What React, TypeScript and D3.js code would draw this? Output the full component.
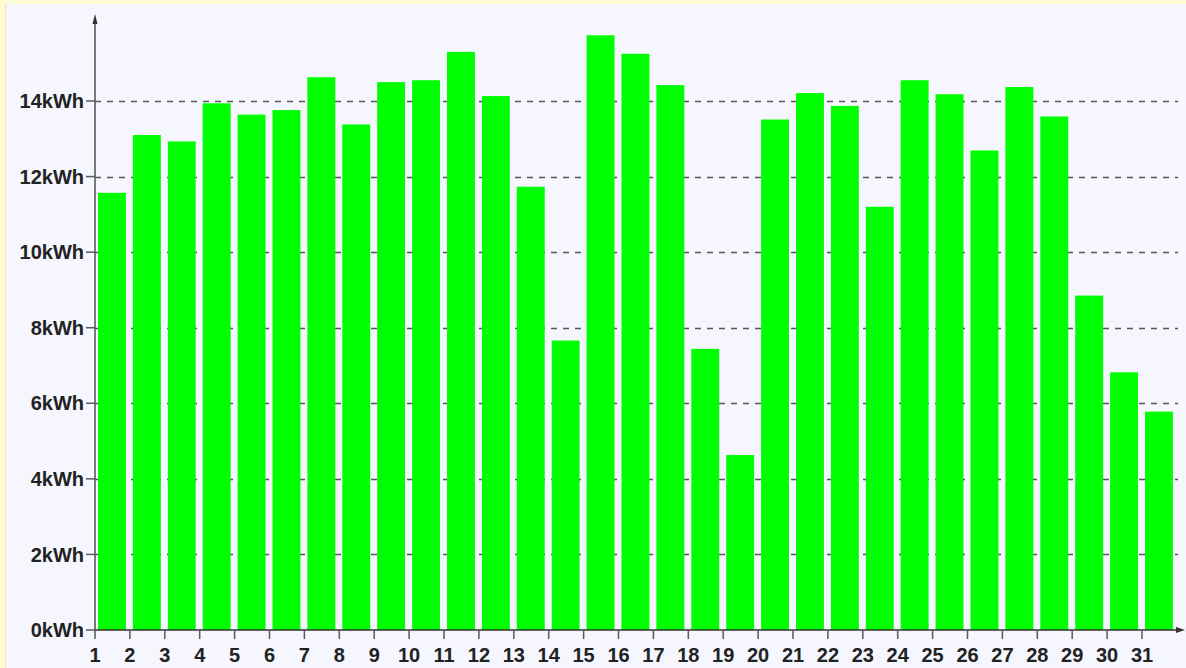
import React from "react";
import * as d3 from "d3";

const days: number[] = Array.from({ length: 31 }, (_, i) => i + 1);
const energy: number[] = [
  11.57, 13.1, 12.93, 13.94, 13.64, 13.76, 14.63, 13.38, 14.5, 14.55,
  15.3, 14.13, 11.73, 7.66, 15.74, 15.25, 14.42, 7.44, 4.63, 13.51,
  14.21, 13.87, 11.2, 14.55, 14.18, 12.69, 14.37, 13.59, 8.85, 6.82, 5.78,
];
const yTicks: number[] = [0, 2, 4, 6, 8, 10, 12, 14];
const unit = "kWh";

const W = 1186;
const H = 668;

export default function App() {
  const x = d3.scaleLinear().domain([1, 31]).range([95, 1142]);
  const y = d3.scaleLinear().domain([0, 14]).range([630, 101]);
  const step = x(2) - x(1);
  const axisColor = "#5a5a5a";
  const font = "'Liberation Sans', Arial, sans-serif";

  return (
    <div style={{ position: "fixed", left: 0, top: 0 }}>
      <svg width={W} height={H} style={{ display: "block" }}>
        <rect x={0} y={0} width={W} height={H} fill="#fffbd2" />
        <rect x={5} y={4} width={W - 5} height={H - 4} fill="#ffdcc4" />
        <rect x={6} y={4} width={W - 6} height={H - 4} fill="#f5f6fe" />

        {/* grid lines */}
        {yTicks
          .filter((t) => t > 0)
          .map((t) => (
            <line
              key={"g" + t}
              x1={x(1)}
              x2={1178}
              y1={Math.round(y(t)) + 0.5}
              y2={Math.round(y(t)) + 0.5}
              stroke="#555"
              strokeWidth={1.5}
              strokeDasharray="6,6"
            />
          ))}

        {/* bars */}
        {days.map((d, i) => (
          <rect
            key={"b" + d}
            x={x(d) + 3}
            y={y(energy[i])}
            width={step * 0.8}
            height={y(0) - y(energy[i])}
            fill="#00ff00"
          />
        ))}

        {/* y axis */}
        <line x1={x(1)} x2={x(1)} y1={18} y2={y(0)} stroke={axisColor} strokeWidth={1.6} />
        <path d={`M${x(1)},14 L${x(1) - 2.5},24 L${x(1) + 2.5},24 Z`} fill="#333" />
        {yTicks.map((t) => (
          <g key={"y" + t}>
            <line x1={x(1) - 9} x2={x(1)} y1={y(t)} y2={y(t)} stroke={axisColor} strokeWidth={1.5} />
            <text
              x={84}
              y={y(t)}
              dy="0.36em"
              textAnchor="end"
              fontFamily={font}
              fontWeight="bold"
              fontSize={20}
              fill="#222"
            >
              {t + unit}
            </text>
          </g>
        ))}

        {/* x axis */}
        <line x1={x(1)} x2={1180} y1={y(0)} y2={y(0)} stroke="#333" strokeWidth={1.6} />
        <path d={`M1185,${y(0)} L1176,${y(0) - 3} L1176,${y(0) + 3} Z`} fill="#333" />
        {days.map((d) => (
          <g key={"x" + d}>
            <line x1={x(d)} x2={x(d)} y1={y(0)} y2={y(0) + 9} stroke={axisColor} strokeWidth={1.5} />
            <text
              x={x(d)}
              y={662}
              textAnchor="middle"
              fontFamily={font}
              fontWeight="bold"
              fontSize={20}
              fill="#222"
            >
              {d}
            </text>
          </g>
        ))}
      </svg>
    </div>
  );
}
